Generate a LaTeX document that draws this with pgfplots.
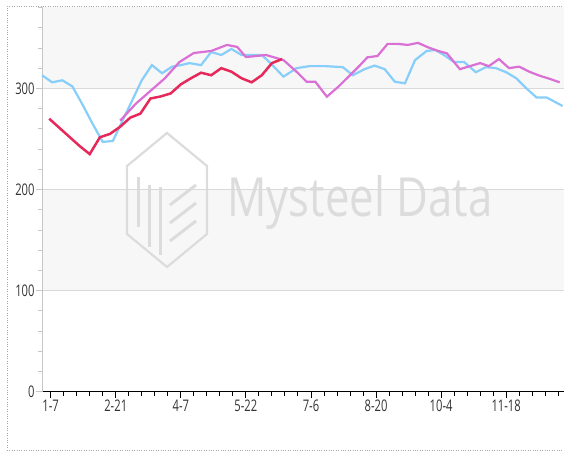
\documentclass[border=0pt]{standalone}
\usepackage{pgfplots}
\pgfplotsset{compat=1.18}
\usepackage{fontspec}
\setmainfont{Open Sans}[FakeStretch=0.7]
\newfontfamily\wmfont{Open Sans}[FakeStretch=0.81]
\definecolor{cred}{RGB}{230,40,90}
\definecolor{cblue}{RGB}{135,206,250}
\definecolor{cmag}{RGB}{218,112,214}
\definecolor{band}{RGB}{247,247,247}
\definecolor{wm}{RGB}{220,220,220}
\definecolor{lab}{RGB}{51,51,51}
\begin{document}
\begin{tikzpicture}
\path[use as bounding box] (0pt,0pt) rectangle (564pt,455pt);
% frame
\draw[dotted, gray!70] (7pt,5pt) -- (7pt,449pt) -- (564pt,449pt);
\draw[dotted, gray!70] (7pt,5pt) -- (564pt,5pt);
% bands
\fill[band] (42pt,164.4pt) rectangle (564pt,265.5pt);
\fill[band] (42pt,366.6pt) rectangle (564pt,447.5pt);
% watermark
\begin{scope}[wm, line width=2.2pt]
\draw (167pt,322pt) -- (207pt,289pt) -- (207pt,221pt) -- (167pt,188pt) -- (127pt,221pt) -- (127pt,289pt) -- cycle;
\draw[line width=3pt] (138pt,278pt) -- (138pt,228pt);
\draw[line width=3pt] (149pt,270pt) -- (149pt,208pt);
\draw[line width=3pt] (160pt,268pt) -- (160pt,200pt);
\draw[line width=3pt] (170pt,250pt) -- (196pt,270pt);
\draw[line width=3pt] (170pt,232pt) -- (196pt,252pt);
\draw[line width=3pt] (170pt,214pt) -- (196pt,234pt);
\end{scope}
\node[anchor=base west, inner sep=0pt, text=wm] at (227pt,238pt) {\wmfont\fontsize{54}{54}\selectfont Mysteel Data};
\begin{axis}[
  at={(42pt,63.3pt)}, anchor=south west,
  scale only axis, width=522pt, height=384.2pt,
  xmin=1, xmax=362, ymin=0, ymax=380,
  axis x line=bottom, axis y line=left,
  x axis line style={-, black, line width=1.2pt},
  y axis line style={-, gray!45, line width=0.8pt},
  xtick={7,52,97,142,187,232,277,322},
  xticklabels={1-7,2-21,4-7,5-22,7-6,8-20,10-4,11-18},
  minor xtick={16,25,34,43,61,70,79,88,106,115,124,133,151,160,169,178,196,205,214,223,241,250,259,268,286,295,304,313,331,340,349,358},
  ytick={0,100,200,300},
  minor ytick={20,40,60,80,120,140,160,180,220,240,260,280,320,340,360,380},
  tick align=outside,
  major tick length=6pt, minor tick length=4pt,
  x tick style={black, line width=0.9pt},
  y tick style={gray!45, line width=0.8pt},
  ymajorgrids, major grid style={gray!30, line width=1.2pt},
  tick label style={text=lab, font=\fontsize{16}{16}\selectfont},
  yticklabel style={xshift=2pt},
  xticklabel style={yshift=1pt},
  /pgf/number format/assume math mode=true,
  clip=false,
]
\addplot[cblue, line width=2.2pt] coordinates {
(1,313)(8,306)(15,308)(22,302)(29,284)(36,265)(43,247)(50,248)(57,269)(64,290)(70,308)(77,323)(84,315)(91,321.5)(97,323)(103,325)(111,323)(118,336)(125,333)(132,339)(139,333)(146,333)(153,333)(159,325)(168,311.6)(177,320)(186,322)(197,322)(209,321)(216,313)(224,319)(231,322.5)(238,319)(245,306.6)(252,305)(259,328)(267,337)(273,338)(279,333)(286,326)(293,326)(301,316)(308,321)(315,320)(322,316)(329,310)(336,300)(343,291)(350,291)(361,282.6)
};
\addplot[cmag, line width=2.2pt] coordinates {
(55,268)(66,285)(78,300)(86,310)(96,326)(106,335)(112,336)(118,337)(129,343)(136,341)(142,331)(149,332)(156,333)(168,328)(177,316.5)(184,306.6)(190,306.6)(198,291.8)(206,301.7)(214,313)(221,323)(226,330.7)(233,332)(240,344)(247,344)(254,343)(261,345)(268,340.6)(275,337)(281,334.7)(290,319)(297,322)(304,325)(310,322)(317,329)(324,320)(331,321.5)(338,316.5)(345,312.6)(352,309.5)(359,306)
};
\addplot[cred, line width=2.5pt] coordinates {
(6,270)(13,261)(20,252)(27,243)(34,235)(41,251.6)(48,255)(55,262)(62,271)(69,275)(76,290)(83,292)(90,295)(97,304)(104,310)(111,315.5)(118,313)(125,320)(132,316.5)(139,310)(146,306)(153,313)(160,325)(167,329)
};
\end{axis}
\end{tikzpicture}
\end{document}
